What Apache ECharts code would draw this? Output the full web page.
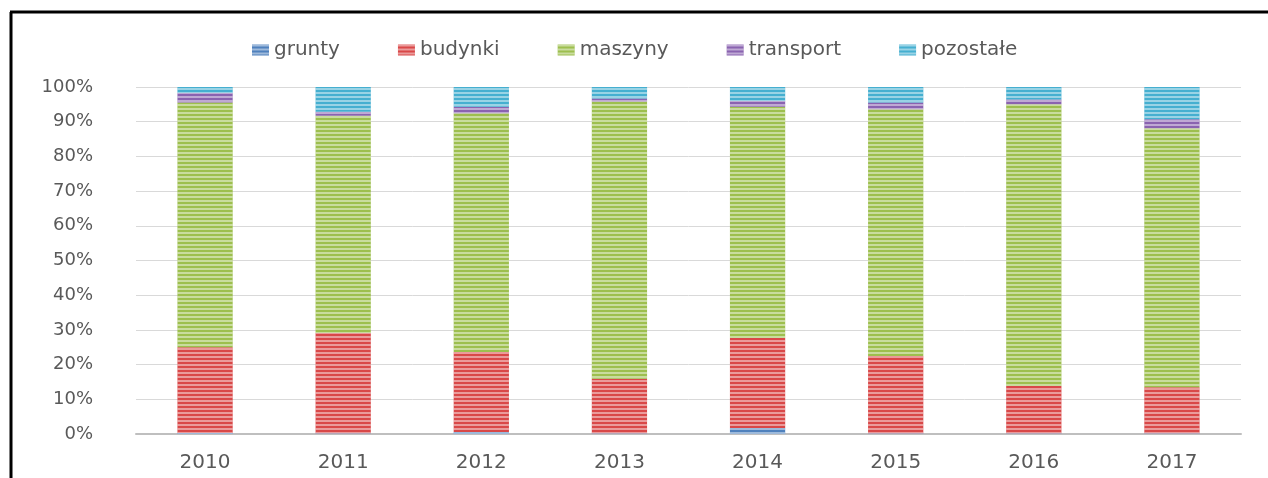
<!DOCTYPE html>
<html>
<head>
<meta charset="utf-8">
<script src="https://cdn.jsdelivr.net/npm/echarts@6/dist/echarts.min.js"></script>
<style>
  html, body { margin: 0; padding: 0; background: #fff; }
  #chart { width: 1268px; height: 478px; }
</style>
</head>
<body>
<div id="chart"></div>
<script>
const years = ['2010', '2011', '2012', '2013', '2014', '2015', '2016', '2017'];
const grunty = [0.3, 0.2, 0.6, 0.2, 1.7, 0.2, 0.2, 0.2];
const budynki = [24.7, 28.9, 23.0, 15.7, 26.0, 22.3, 13.6, 13.3];
const maszyny = [70.5, 62.6, 68.8, 79.9, 66.6, 71.1, 81.2, 74.6];
const transport = [2.8, 1.2, 1.9, 0.9, 1.7, 1.9, 1.4, 2.6];
const pozostale = [1.7, 7.1, 5.7, 3.3, 4.0, 4.5, 3.6, 9.3];

const seriesDefs = [
  { name: 'grunty', data: grunty, color: '#4f81bd' },
  { name: 'budynki', data: budynki, color: '#d94848' },
  { name: 'maszyny', data: maszyny, color: '#9dbf4e' },
  { name: 'transport', data: transport, color: '#8a63b0' },
  { name: 'pozostałe', data: pozostale, color: '#45afd0' },
];

const chart = echarts.init(document.getElementById('chart'));

// horizontal light stripes over each bar, like the original fill
const stripes = {
  symbol: 'rect',
  symbolSize: 1,
  dashArrayX: [1, 0],
  dashArrayY: [2, 2],
  color: 'rgba(255,255,255,0.45)',
};

chart.setOption({
  animation: false,
  textStyle: { fontFamily: 'DejaVu Sans' },
  legend: {
    top: 35,
    left: 247,
    itemWidth: 17,
    itemHeight: 11,
    itemGap: 58,
    icon: 'rect',
    textStyle: { color: '#595959', fontSize: 20, fontFamily: 'DejaVu Sans' },
    data: seriesDefs.map((s) => s.name),
  },
  grid: { left: 136, right: 27, top: 87, bottom: 44 },
  xAxis: {
    type: 'category',
    data: years,
    axisLine: { lineStyle: { color: '#bfbfbf', width: 2 } },
    axisTick: { show: false },
    axisLabel: { color: '#595959', fontSize: 20, margin: 19 },
  },
  yAxis: {
    type: 'value',
    min: 0,
    max: 100,
    interval: 10,
    axisLine: { show: false },
    axisTick: { show: false },
    axisLabel: { color: '#595959', fontSize: 18, margin: 43, formatter: '{value}%' },
    splitLine: { lineStyle: { color: '#d9d9d9' } },
  },
  graphic: [
    { type: 'line', shape: { x1: 11, y1: 12, x2: 11, y2: 478 }, style: { stroke: '#000', lineWidth: 3 } },
    { type: 'line', shape: { x1: 10, y1: 12, x2: 1268, y2: 12 }, style: { stroke: '#000', lineWidth: 3 } },
  ],
  series: seriesDefs.map((s) => ({
    name: s.name,
    type: 'bar',
    stack: 'total',
    barWidth: '40%',
    data: s.data,
    itemStyle: { color: s.color, decal: stripes },
  })),
});
</script>
</body>
</html>
